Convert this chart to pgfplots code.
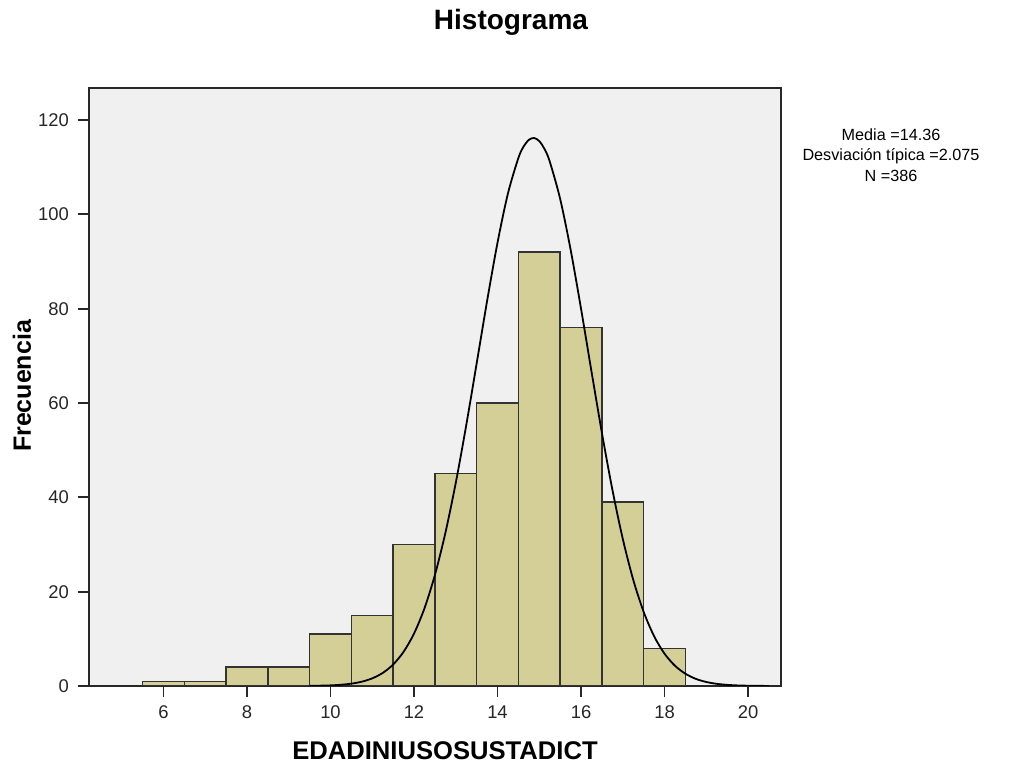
\documentclass[border=0pt]{standalone}
\usepackage{fontspec}
\setmainfont{Liberation Sans}
\usepackage{pgfplots}
\pgfplotsset{compat=1.18}

\definecolor{barfill}{RGB}{211,207,151}
\definecolor{plotbg}{RGB}{240,240,240}
\definecolor{framecol}{RGB}{40,40,40}

\begin{document}
\begin{tikzpicture}
\useasboundingbox (0,0) rectangle (507pt,382.5pt);
\begin{axis}[
  at={(44.5pt,39.5pt)}, anchor=south west,
  width=346pt, height=299pt, scale only axis,
  xmin=4.216, xmax=20.79,
  ymin=0, ymax=126.8,
  axis background/.style={fill=plotbg},
  axis line style={framecol, line width=0.9pt},
  xtick={6,8,...,20},
  ytick={0,20,...,120},
  tick align=outside,
  xtick pos=bottom, ytick pos=left,
  major tick length=5.5pt,
  tick style={framecol, line width=0.9pt},
  /pgf/number format/assume math mode=true,
  tick label style={font=\fontsize{9.2}{10}\selectfont, text=black!85},
  xticklabel style={yshift=-1pt},
  yticklabel style={xshift=-1pt},
  clip=true,
]
% frequencies per one-year bin, centred on the integers 6 ... 18
\addplot[ybar interval, fill=barfill, draw=black!80, line width=0.7pt]
  coordinates {
    (5.5,1) (6.5,1) (7.5,4) (8.5,4) (9.5,11) (10.5,15) (11.5,30)
    (12.5,45) (13.5,60) (14.5,92) (15.5,76) (16.5,39) (17.5,8) (18.5,8)
  };
% fitted normal curve
\addplot[smooth, black, line width=0.9pt] coordinates {
  (9.5,0.03) (9.75,0.07) (10.0,0.13) (10.25,0.26) (10.5,0.50)
  (10.75,0.91) (11.0,1.62) (11.25,2.76) (11.5,4.55) (11.75,7.24)
  (12.0,11.11) (12.25,16.45) (12.5,23.51) (12.75,32.39) (13.0,43.05)
  (13.25,55.23) (13.5,68.34) (13.75,81.60) (14.0,93.98) (14.25,104.43)
  (14.5,111.96) (14.625,114.38) (14.75,115.80) (14.875,116.2) (15.0,115.55)
  (15.125,113.88) (15.25,111.24)
  (15.5,103.31) (15.75,92.58) (16.0,80.03) (16.25,66.75) (16.5,53.71)
  (16.75,41.69) (17.0,31.22) (17.25,22.55) (17.5,15.73) (17.75,10.57)
  (18.0,6.86) (18.25,4.30) (18.5,2.60) (18.75,1.51) (19.0,0.85)
  (19.25,0.46) (19.5,0.24) (19.75,0.12) (20.0,0.06) (20.25,0.03) (20.5,0.01)
};
\end{axis}
% titles and labels
\node[font=\bfseries\fontsize{14}{16}\selectfont] at (255.5pt,371.5pt) {Histograma};
\node[font=\bfseries\fontsize{12.5}{14}\selectfont, rotate=90] at (11pt,189.5pt) {Frecuencia};
\node[font=\bfseries\fontsize{12.8}{14}\selectfont] at (222.5pt,7pt) {EDADINIUSOSUSTADICT};
\node[font=\fontsize{8.1}{10.2}\selectfont, align=center] at (445.5pt,305pt)
  {Media =14.36\\Desviación típica =2.075\\N =386};
\end{tikzpicture}
\end{document}
